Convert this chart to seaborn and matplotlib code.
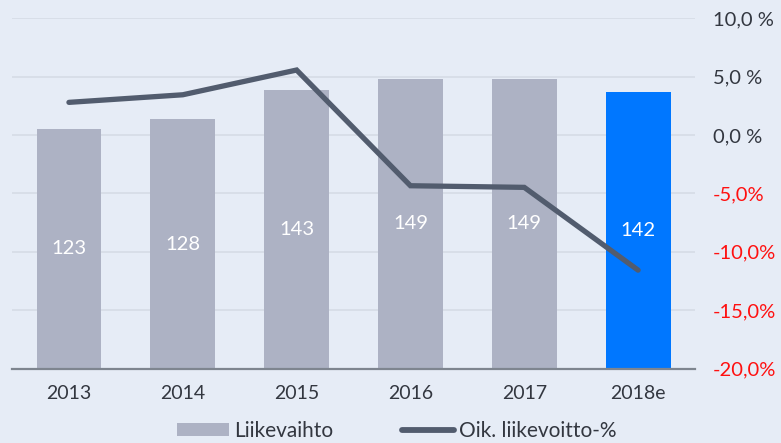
import numpy as np
import pandas as pd
import matplotlib
matplotlib.use("Agg")
import matplotlib.pyplot as plt
from matplotlib.patches import Patch
from matplotlib.lines import Line2D
import seaborn as sns

# Data
years = ["2013", "2014", "2015", "2016", "2017", "2018e"]
revenue = [123, 128, 143, 149, 149, 142]           # Liikevaihto
adj_margin = [2.8, 3.45, 5.57, -4.34, -4.48, -11.57]  # Oik. liikevoitto-%
pct_ticks = [-20, -15, -10, -5, 0, 5, 10]
pct_labels = ["-20,0%", "-15,0%", "-10,0%", "-5,0%", "0,0 %", "5,0 %", "10,0 %"]

BG = "#E6ECF6"
BAR = "#ADB2C4"
BAR_EST = "#0077FF"
LINE = "#525C6E"
GRID = "#D6DCE6"
TEXT = "#333740"
RED = "#FF1010"

sns.set_theme(style="white")
plt.rcParams["font.family"] = ["Lato", "DejaVu Sans"]

fig = plt.figure(figsize=(7.81, 4.43), dpi=100, facecolor=BG)
ax = fig.add_axes([0.0154, 0.168, 0.8745, 0.7907])
ax.set_facecolor(BG)

df = pd.DataFrame({"year": years, "revenue": revenue, "margin": adj_margin})
df["pos"] = np.arange(len(df))

palette = {y: (BAR_EST if y.endswith("e") else BAR) for y in years}
sns.barplot(data=df, x="year", y="revenue", hue="year", palette=palette,
            width=0.57, saturation=1, legend=False, ax=ax, zorder=2,
            linewidth=0, edgecolor="none")

rev_max = 180
ax.set_ylim(0, rev_max)
ax.set_xlim(-0.5, len(years) - 0.5)
# gridlines of the percentage scale, drawn behind the bars
grid_vals = [(p - pct_ticks[0]) / (pct_ticks[-1] - pct_ticks[0]) * rev_max for p in pct_ticks]
ax.set_yticks(grid_vals)
ax.set_yticklabels([])
ax.tick_params(axis="y", length=0)
ax.yaxis.grid(True, color=GRID, linewidth=1.2, zorder=0)
ax.set_axisbelow(True)
ax.set_xlabel("")
ax.set_ylabel("")
ax.tick_params(axis="x", length=0, pad=12, labelsize=14, labelcolor=TEXT)

for container in ax.containers:
    ax.bar_label(container, fmt="%d", label_type="center", color="white",
                 fontsize=14.5)

for side in ["left", "right", "top"]:
    ax.spines[side].set_visible(False)
ax.spines["bottom"].set_color("#7E858F")
ax.spines["bottom"].set_linewidth(1.6)
ax.spines["bottom"].set_zorder(5)

# Percentage axis
ax2 = ax.twinx()
ax2.patch.set_visible(False)
sns.lineplot(data=df, x="pos", y="margin", color=LINE, linewidth=3.8,
             ax=ax2, sort=False)
for ln in ax2.get_lines():
    ln.set_solid_capstyle("round")
    ln.set_solid_joinstyle("miter")
ax2.set_ylim(pct_ticks[0], pct_ticks[-1])
ax2.set_yticks(pct_ticks)
ax2.set_yticklabels(pct_labels)
ax2.tick_params(axis="y", length=0, pad=13, labelsize=14.5)
for lbl, val in zip(ax2.get_yticklabels(), pct_ticks):
    lbl.set_color(RED if val < 0 else TEXT)
    lbl.set_horizontalalignment("left")
ax2.set_xlabel("")
ax2.set_ylabel("")
for side in ["left", "right", "top", "bottom"]:
    ax2.spines[side].set_visible(False)

handles = [Patch(facecolor=BAR, edgecolor="none"),
           Line2D([0], [0], color=LINE, linewidth=4.2, solid_capstyle="round")]
fig.legend(handles, ["Liikevaihto", "Oik. liikevoitto-%"], loc="center",
           bbox_to_anchor=(0.508, 0.027), ncol=2, frameon=False, fontsize=15,
           handlelength=2.5, handleheight=0.6, handletextpad=0.25,
           columnspacing=3.3, labelcolor=TEXT)

fig.savefig("out.png", dpi=100, facecolor=BG)
